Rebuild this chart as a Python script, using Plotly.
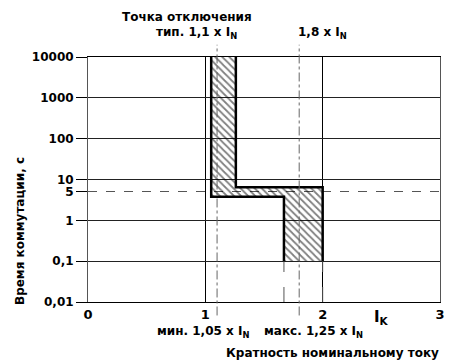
import plotly.graph_objects as go

# ---- data ----
y_decades = [0.01, 0.1, 1, 10, 100, 1000, 10000]
y_decade_labels = ["0,01", "0,1", "1", "10", "100", "1000", "10000"]
y_extra = [5]
y_extra_labels = ["5"]
x_ticks = [0, 1, 2, 3]
x_tick_labels = ["0", "1", "2", "3"]

# band boundaries (multiple of nominal current vs time, s)
left_x = [1.05, 1.05, 1.67, 1.67]
left_y = [10000, 3.8, 3.8, 0.1]
right_x = [1.26, 1.26, 2.0, 2.0]
right_y = [10000, 6.5, 6.5, 0.1]

marker_x = [1.1, 1.8]          # typical trip, 1.8 x IN
ext_x = [1.67, 2.0]            # extension lines below band
ext_y = [0.01, 0.1]

FONT = "DejaVu Sans, Arial, sans-serif"

fig = go.Figure()

# hatched band
fig.add_trace(go.Scatter(
    x=left_x + right_x[::-1], y=left_y + right_y[::-1],
    fill="toself", mode="none",
    fillcolor="rgba(0,0,0,0)",
    fillpattern=dict(shape="\\", fgcolor="black", bgcolor="rgba(0,0,0,0)", size=5, solidity=0.35),
    showlegend=False, hoverinfo="skip"))

# extension dashed lines below the band
for xv in ext_x:
    fig.add_trace(go.Scatter(x=[xv, xv], y=ext_y, mode="lines",
                             line=dict(color="#555", width=1, dash="longdash"),
                             showlegend=False, hoverinfo="skip"))

# thick boundaries
for xs, ys in [(left_x, left_y), (right_x, right_y)]:
    fig.add_trace(go.Scatter(x=xs, y=ys, mode="lines",
                             line=dict(color="black", width=2.5),
                             showlegend=False, hoverinfo="skip"))

# vertical dash-dot marker lines extending beyond the plot
for xv in marker_x:
    fig.add_shape(type="line", xref="x", yref="paper", x0=xv, x1=xv, y0=-0.055, y1=1.05,
                  line=dict(color="#666", width=1, dash="dashdot"))

tickfont = dict(family=FONT, size=12, color="black", weight="bold")

fig.update_layout(
    width=451, height=363,
    margin=dict(l=88, r=6, t=57, b=61),
    paper_bgcolor="white", plot_bgcolor="white",
    xaxis=dict(range=[0, 3], tickvals=x_ticks, ticktext=x_tick_labels,
               showgrid=True, gridcolor="black", gridwidth=1,
               showline=True, linecolor="black", linewidth=1, mirror=True,
               ticks="", tickfont=dict(family=FONT, size=13, color="black", weight="bold"),
               zeroline=False),
    yaxis=dict(type="log", range=[-2, 4], tickvals=y_decades, ticktext=y_decade_labels,
               showgrid=True, gridcolor="#222", gridwidth=1,
               showline=True, linecolor="#555", linewidth=1, mirror=True,
               ticks="outside", ticklen=11, tickcolor="black", tickfont=tickfont,
               zeroline=False),
    yaxis2=dict(type="log", range=[-2, 4], overlaying="y", side="left",
                tickvals=y_extra, ticktext=y_extra_labels,
                showgrid=True, gridcolor="#555", griddash="dash", gridwidth=1,
                showline=False, ticks="outside", ticklen=11, tickcolor="black",
                tickfont=tickfont, zeroline=False),
)

# invisible trace to activate yaxis2
fig.add_trace(go.Scatter(x=[0], y=[5], yaxis="y2", mode="markers",
                         marker=dict(opacity=0), showlegend=False, hoverinfo="skip"))

def ann(text, x, y, size=12, xanchor="center", angle=0):
    fig.add_annotation(text=text, xref="paper", yref="paper", x=x, y=y,
                       xanchor=xanchor, yanchor="middle", showarrow=False, textangle=angle,
                       font=dict(family=FONT, size=size, color="black", weight="bold"))

ann("Точка отключения", 0.281, 1.164)
ann("тип. 1,1 x I<sub>N</sub>", 0.307, 1.098)
ann("1,8 x I<sub>N</sub>", 0.667, 1.098)
ann("мин. 1,05 x I<sub>N</sub>", 0.328, -0.122)
ann("макс. 1,25 x I<sub>N</sub>", 0.642, -0.122)
ann("Кратность номинальному току", 1.004, -0.208, xanchor="right")
ann("I<sub>K</sub>", 0.833, -0.065, size=15)
ann("Время коммутации, с", -0.193, 0.29, angle=-90)

fig.write_html("out.html", post_script="document.body.style.margin='0';",
               config={"displayModeBar": False})
